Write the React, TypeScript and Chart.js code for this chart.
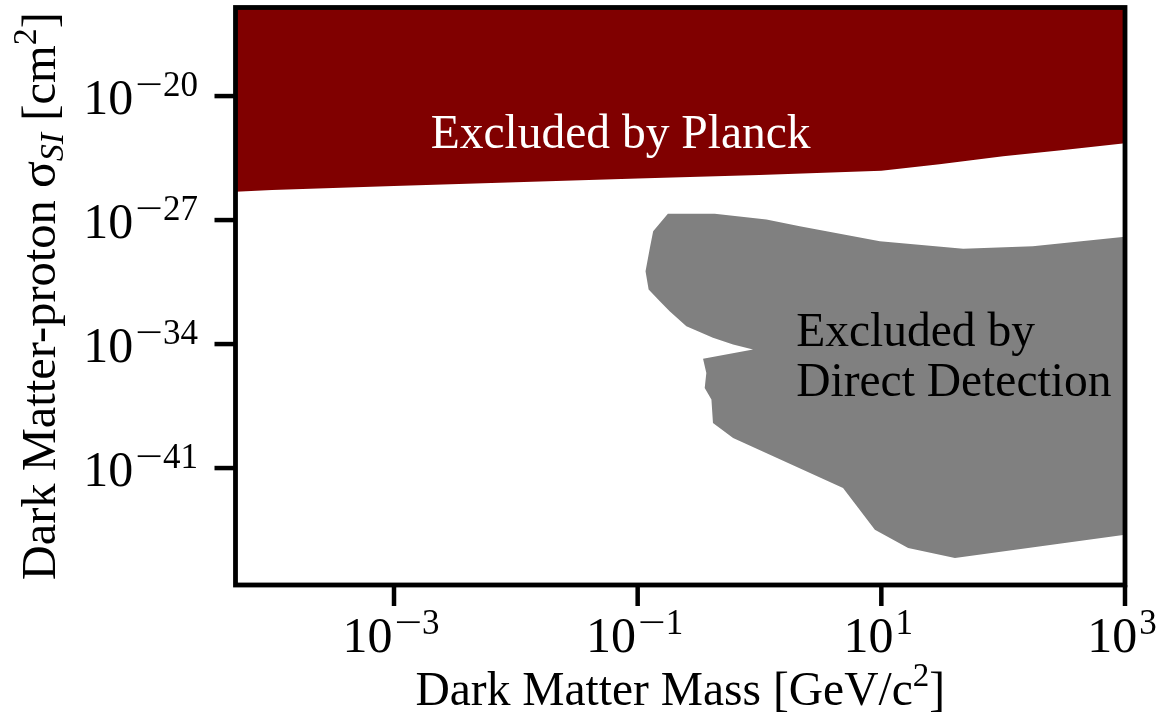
import React, { useEffect, useRef } from "react";
import { Chart, registerables } from "chart.js";

Chart.register(...registerables);

// Axis ranges and tick positions
const massRange = [5e-5, 1e3];
const sigmaRange = [2.5e-48, 1e-15];
const massTicks = [1e-3, 1e-1, 1e1, 1e3];
const sigmaTicks = [1e-41, 1e-34, 1e-27, 1e-20];

// Lower edge of the Planck-excluded band (everything above is excluded)
const planckMass = [5e-5, 1e-4, 1e-3, 1e-2, 1e-1, 1, 10, 30, 100, 300, 1000];
const planckSigma = [
  3.98e-26, 5.01e-26, 8.32e-26, 1.35e-25, 2.19e-25, 3.55e-25, 6.03e-25,
  1.41e-24, 3.98e-24, 8.71e-24, 2.14e-23,
];

// Closed contour of the direct-detection excluded region
const ddMass = [
  0.177, 0.429, 1.14, 2.14, 9.73, 47.0, 175, 1000, 1000, 40.2, 16.6, 8.85,
  4.85, 0.607, 0.415, 0.403, 0.355, 0.366, 0.344, 0.885, 0.607, 0.415, 0.251,
  0.183, 0.152, 0.123, 0.116, 0.126, 0.134,
];
const ddSigma = [
  2.27e-27, 2.27e-27, 1.08e-27, 4.52e-28, 6.43e-29, 2.39e-29, 3.35e-29,
  1.14e-28, 1.73e-45, 8.34e-47, 3.06e-46, 3.31e-45, 7.52e-43, 5.02e-40,
  3.53e-39, 7.31e-38, 3.35e-37, 2.36e-36, 1.46e-35, 4.89e-35, 9.38e-35,
  2.24e-34, 1.01e-33, 7.13e-33, 2.62e-32, 1.2e-31, 1.3e-30, 2.72e-29, 2.36e-28,
];

// Text anchors (data coordinates, left edge / first baseline)
const planckLabel = { x: 2.0e-3, y: 1.2e-23, text: "Excluded by Planck" };
const ddLabel = { x: 2.0, y: 7.6e-35, lines: ["Excluded by", "Direct Detection"] };

const SERIF = '"Liberation Serif", "Times New Roman", "DejaVu Serif", serif';
const PLANCK_RED = "#800000";
const DD_GRAY = "#808080";

type Run = { t: string; size: number; shift?: number; italic?: boolean };

function runFont(r: Run) {
  return `${r.italic ? "italic " : ""}${r.size}px ${SERIF}`;
}

function drawRuns(ctx: CanvasRenderingContext2D, runs: Run[], cx: number, baseline: number) {
  let total = 0;
  const widths = runs.map((r) => {
    ctx.font = runFont(r);
    const w = ctx.measureText(r.t).width;
    total += w;
    return w;
  });
  let x = cx - total / 2;
  ctx.textAlign = "left";
  ctx.textBaseline = "alphabetic";
  runs.forEach((r, i) => {
    ctx.font = runFont(r);
    ctx.fillText(r.t, x, baseline + (r.shift || 0));
    x += widths[i];
  });
}

function drawPower(
  ctx: CanvasRenderingContext2D,
  value: number,
  x: number,
  baseline: number,
  align: "center" | "right"
) {
  const exp = Math.round(Math.log10(value));
  const big = `50px ${SERIF}`;
  const small = `35px ${SERIF}`;
  const minusScale = 1.4;
  ctx.font = big;
  const wBase = ctx.measureText("10").width;
  ctx.font = small;
  const digits = String(Math.abs(exp));
  const wDigits = ctx.measureText(digits).width;
  const wMinus = exp < 0 ? ctx.measureText("\u2212").width * minusScale : 0;
  const gap = 2;
  const total = wBase + gap + wMinus + wDigits;
  const left = align === "right" ? x - total : x - total / 2;
  ctx.textAlign = "left";
  ctx.textBaseline = "alphabetic";
  ctx.fillStyle = "#000";
  ctx.font = big;
  ctx.fillText("10", left, baseline);
  ctx.font = small;
  const supY = baseline - 18;
  let cx = left + wBase + gap;
  if (exp < 0) {
    ctx.save();
    ctx.translate(cx, supY);
    ctx.scale(minusScale, 1);
    ctx.fillText("\u2212", 0, 0);
    ctx.restore();
    cx += wMinus;
  }
  ctx.fillText(digits, cx, supY);
}

const frame = {
  id: "frameAndText",
  afterDatasetsDraw(chart: any) {
    const ctx: CanvasRenderingContext2D = chart.ctx;
    const xs = chart.scales.x;
    const ys = chart.scales.y;
    ctx.save();
    // Region labels
    ctx.textAlign = "left";
    ctx.textBaseline = "alphabetic";
    ctx.font = `47.5px ${SERIF}`;
    ctx.fillStyle = "#ffffff";
    ctx.fillText(planckLabel.text, xs.getPixelForValue(planckLabel.x), ys.getPixelForValue(planckLabel.y));
    ctx.fillStyle = "#000000";
    const dx = xs.getPixelForValue(ddLabel.x);
    const dy = ys.getPixelForValue(ddLabel.y);
    ddLabel.lines.forEach((l, i) => ctx.fillText(l, dx, dy + i * 50));
    ctx.restore();
  },
  afterDraw(chart: any) {
    const ctx: CanvasRenderingContext2D = chart.ctx;
    const { left, right, top, bottom } = chart.chartArea;
    const xs = chart.scales.x;
    const ys = chart.scales.y;
    ctx.save();
    ctx.strokeStyle = "#000";
    ctx.fillStyle = "#000";
    // Axes frame
    ctx.lineWidth = 4.8;
    ctx.lineJoin = "miter";
    ctx.strokeRect(left, top, right - left, bottom - top);
    // Outward tick marks
    ctx.lineWidth = 4.5;
    ctx.lineCap = "butt";
    const tickLen = 21;
    massTicks.forEach((v) => {
      const px = xs.getPixelForValue(v);
      ctx.beginPath();
      ctx.moveTo(px, bottom);
      ctx.lineTo(px, bottom + tickLen);
      ctx.stroke();
      drawPower(ctx, v, px - 3, 652, "center");
    });
    sigmaTicks.forEach((v) => {
      const py = ys.getPixelForValue(v);
      ctx.beginPath();
      ctx.moveTo(left - tickLen, py);
      ctx.lineTo(left, py);
      ctx.stroke();
      drawPower(ctx, v, 198, py + 17.5, "right");
    });
    // Axis titles
    drawRuns(
      ctx,
      [
        { t: "Dark Matter Mass [GeV/c", size: 47.5 },
        { t: "2", size: 33, shift: -19 },
        { t: "]", size: 47.5 },
      ],
      (left + right) / 2,
      705
    );
    ctx.save();
    ctx.translate(55, (top + bottom) / 2);
    ctx.rotate(-Math.PI / 2);
    drawRuns(
      ctx,
      [
        { t: "Dark Matter-proton ", size: 48.5 },
        { t: "\u03c3", size: 50 },
        { t: "SI", size: 34, shift: 8, italic: true },
        { t: " [cm", size: 48.5 },
        { t: "2", size: 34, shift: -19 },
        { t: "]", size: 48.5 },
      ],
      0,
      0
    );
    ctx.restore();
    ctx.restore();
  },
};

export default function App() {
  const canvasRef = useRef<HTMLCanvasElement | null>(null);

  useEffect(() => {
    if (!canvasRef.current) return;
    const planckData = planckMass.map((m, i) => ({ x: m, y: planckSigma[i] }));
    const ddData = ddMass.map((m, i) => ({ x: m, y: ddSigma[i] }));
    const chart = new Chart(canvasRef.current, {
      type: "scatter",
      data: {
        datasets: [
          {
            label: "Excluded by Planck",
            data: planckData,
            showLine: true,
            fill: "end",
            backgroundColor: PLANCK_RED,
            borderColor: PLANCK_RED,
            borderWidth: 0,
            pointRadius: 0,
            tension: 0,
          },
          {
            label: "Excluded by Direct Detection",
            data: ddData,
            showLine: true,
            fill: "shape",
            backgroundColor: DD_GRAY,
            borderColor: DD_GRAY,
            borderWidth: 0,
            pointRadius: 0,
            tension: 0,
          },
        ],
      },
      options: {
        animation: false,
        responsive: false,
        devicePixelRatio: 1,
        layout: { padding: { top: 7.5, right: 31, left: 0, bottom: 0 } },
        plugins: { legend: { display: false }, tooltip: { enabled: false } },
        scales: {
          x: {
            type: "logarithmic",
            min: massRange[0],
            max: massRange[1],
            grid: { display: false },
            ticks: { display: false },
            border: { display: false },
            afterBuildTicks: (s: any) => {
              s.ticks = massTicks.map((v) => ({ value: v }));
            },
            afterFit: (s: any) => {
              s.height = 135;
            },
          },
          y: {
            type: "logarithmic",
            min: sigmaRange[0],
            max: sigmaRange[1],
            grid: { display: false },
            ticks: { display: false },
            border: { display: false },
            afterBuildTicks: (s: any) => {
              s.ticks = sigmaTicks.map((v) => ({ value: v }));
            },
            afterFit: (s: any) => {
              s.width = 235.5;
            },
          },
        },
      } as any,
      plugins: [frame],
    });
    return () => chart.destroy();
  }, []);

  return (
    <div style={{ position: "absolute", left: 0, top: 0, width: 1156, height: 720, background: "#fff" }}>
      <canvas ref={canvasRef} width={1156} height={720} style={{ display: "block" }} />
    </div>
  );
}
